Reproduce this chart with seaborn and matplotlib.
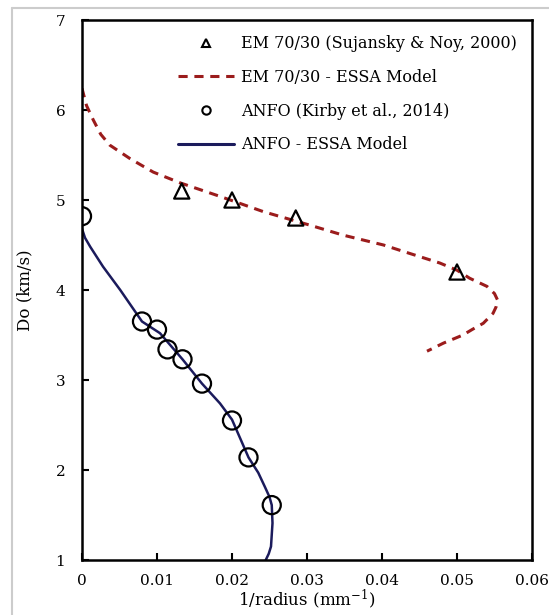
import numpy as np
import matplotlib.pyplot as plt
import seaborn as sns
from matplotlib.lines import Line2D

# EM 70/30 measured (Sujansky & Noy, 2000)
em_x = [0.0133, 0.0200, 0.0285, 0.0500]
em_y = [5.10, 5.00, 4.80, 4.20]

# EM 70/30 ESSA model curve
em_model_x = [0.0, 0.0006, 0.0015, 0.0025, 0.0037, 0.0064, 0.0095, 0.0131,
              0.0184, 0.0242, 0.0304, 0.0348, 0.0402, 0.0428, 0.0477, 0.0500,
              0.0517, 0.0540, 0.0550, 0.0554, 0.0552, 0.0548, 0.0535, 0.0520,
              0.0508, 0.0482, 0.0460]
em_model_y = [6.24, 6.05, 5.89, 5.73, 5.61, 5.46, 5.31, 5.19,
              5.04, 4.87, 4.72, 4.61, 4.50, 4.43, 4.30, 4.22,
              4.13, 4.04, 3.96, 3.89, 3.81, 3.74, 3.63, 3.56,
              3.50, 3.41, 3.32]

# ANFO measured (Kirby et al., 2014)
anfo_x = [0.0, 0.0080, 0.0100, 0.0114, 0.0134, 0.0160, 0.0200, 0.0222, 0.0253]
anfo_y = [4.82, 3.65, 3.56, 3.34, 3.23, 2.96, 2.55, 2.14, 1.61]

# ANFO ESSA model curve
anfo_model_x = [0.0, 0.0004, 0.0011, 0.0028, 0.0051, 0.0080, 0.0104, 0.0134,
                0.0160, 0.0184, 0.0200, 0.0222, 0.0235, 0.0244, 0.0250, 0.0253,
                0.0254, 0.0253, 0.0252, 0.0249, 0.0245]
anfo_model_y = [4.68, 4.58, 4.48, 4.26, 4.00, 3.65, 3.52, 3.23,
                2.96, 2.74, 2.56, 2.14, 1.97, 1.81, 1.70, 1.61,
                1.41, 1.28, 1.15, 1.07, 1.00]

red = "#9b1c1c"
navy = "#1b1b5c"

sns.set_style("white")
plt.rcParams['font.family'] = ['DejaVu Serif']
plt.rcParams['mathtext.fontset'] = 'dejavuserif'
plt.rcParams['text.color'] = 'black'
plt.rcParams['axes.labelcolor'] = 'black'

fig = plt.figure(figsize=(5.49, 6.15), dpi=100)
ax = fig.add_axes([82/549, 1-560/615, 450/549, 540/615])

sns.lineplot(x=em_model_x, y=em_model_y, sort=False, estimator=None, ax=ax,
             color=red, linestyle=(0, (3, 2.2)), linewidth=2.2)
sns.lineplot(x=anfo_model_x, y=anfo_model_y, sort=False, estimator=None, ax=ax,
             color=navy, linewidth=1.8)
sns.scatterplot(x=em_x, y=em_y, marker='^', s=120, facecolor='none',
                edgecolor='black', linewidth=1.6, ax=ax, zorder=5)
sns.scatterplot(x=anfo_x, y=anfo_y, marker='o', s=170, facecolor='none',
                edgecolor='black', linewidth=1.6, ax=ax, zorder=5)

ax.set_xlim(0, 0.06)
ax.set_ylim(1, 7)
ax.set_xticks([0, 0.01, 0.02, 0.03, 0.04, 0.05, 0.06])
ax.set_xticklabels(['0', '0.01', '0.02', '0.03', '0.04', '0.05', '0.06'])
ax.set_yticks([1, 2, 3, 4, 5, 6, 7])
ax.tick_params(direction='in', length=5, width=1.5, labelsize=11, pad=12,
               left=True, bottom=True, colors='black')
ax.tick_params(axis='x', pad=10)
for s in ax.spines.values():
    s.set_linewidth(1.8)
    s.set_color('black')

ax.set_xlabel(r'1/radius (mm$^{\mathregular{-1}}$)', fontsize=12, labelpad=0)
ax.set_ylabel('Do (km/s)', fontsize=12, labelpad=16)

handles = [
    Line2D([], [], marker='^', linestyle='none', markerfacecolor='none',
           markeredgecolor='black', markersize=6, markeredgewidth=1.5),
    Line2D([], [], color=red, linestyle=(0, (3, 2.2)), linewidth=2.2),
    Line2D([], [], marker='o', linestyle='none', markerfacecolor='none',
           markeredgecolor='black', markersize=6, markeredgewidth=1.5),
    Line2D([], [], color=navy, linewidth=2.2),
]
labels = ['EM 70/30 (Sujansky & Noy, 2000)', 'EM 70/30 - ESSA Model',
          'ANFO (Kirby et al., 2014)', 'ANFO - ESSA Model']
ax.legend(handles, labels, loc='upper right', bbox_to_anchor=(1.0, 1.0),
          frameon=False, fontsize=11.5, handlelength=3.5, handletextpad=0.45,
          labelspacing=1.05, borderaxespad=0.55)

# light grey frame of the original screenshot
fig.add_artist(Line2D([12/549, 12/549], [0, 1-8/615], color='#cccccc', lw=1.5))
fig.add_artist(Line2D([12/549, 1], [1-8/615, 1-8/615], color='#cccccc', lw=1.5))

fig.savefig('out.png', dpi=100)
